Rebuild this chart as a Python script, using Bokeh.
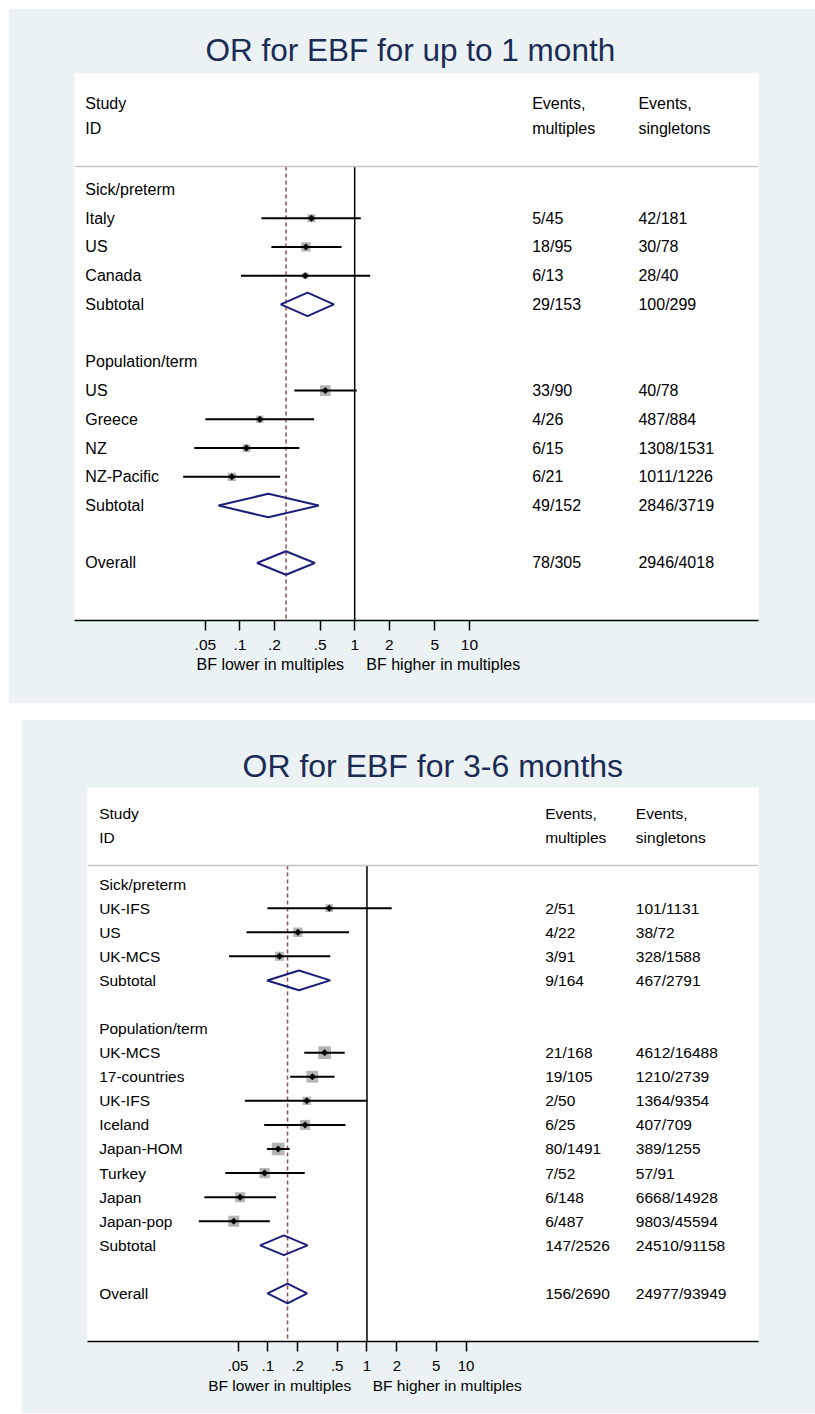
import math
from bokeh.plotting import figure
from bokeh.layouts import column
from bokeh.models import Range1d, FixedTicker, Span, ColumnDataSource, Title
from bokeh.embed import file_html
from bokeh.resources import INLINE
from bokeh.core.properties import value

FONT = "Liberation Sans"
BG = "#eaf2f3"
TITLE_COLOR = "#1c2b56"
DIAMOND_COLOR = "#1b1f7b"
REF_DASH_COLOR = "#a0474c"
BOX_COLOR = "#b5b5b5"

# ---------------- data: panel 1 ----------------
p1_title = "OR for EBF for up to 1 month"
p1_groups = ["Sick/preterm", "Population/term"]
p1_group_rows = [0, 6]
p1_names = ["Italy", "US", "Canada", "US", "Greece", "NZ", "NZ-Pacific"]
p1_rows = [1, 2, 3, 7, 8, 9, 10]
p1_or = [0.42, 0.376, 0.371, 0.555, 0.149, 0.114, 0.085]
p1_lo = [0.154, 0.188, 0.102, 0.298, 0.050, 0.040, 0.032]
p1_hi = [1.13, 0.768, 1.365, 1.04, 0.443, 0.329, 0.224]
p1_weight = [13.3, 17.9, 7.5, 23.7, 11.0, 12.3, 14.3]
p1_ev_mult = ["5/45", "18/95", "6/13", "33/90", "4/26", "6/15", "6/21"]
p1_ev_sing = ["42/181", "30/78", "28/40", "40/78", "487/884", "1308/1531", "1011/1226"]
p1_pool_names = ["Subtotal", "Subtotal", "Overall"]
p1_pool_rows = [4, 11, 13]
p1_pool_or = [0.388, 0.177, 0.252]
p1_pool_lo = [0.227, 0.065, 0.141]
p1_pool_hi = [0.659, 0.486, 0.449]
p1_pool_ev_mult = ["29/153", "49/152", "78/305"]
p1_pool_ev_sing = ["100/299", "2846/3719", "2946/4018"]

# ---------------- data: panel 2 ----------------
p2_title = "OR for EBF for 3-6 months"
p2_groups = ["Sick/preterm", "Population/term"]
p2_group_rows = [0, 6]
p2_names = ["UK-IFS", "US", "UK-MCS", "UK-MCS", "17-countries", "UK-IFS",
            "Iceland", "Japan-HOM", "Turkey", "Japan", "Japan-pop"]
p2_rows = [1, 2, 3, 7, 8, 9, 10, 11, 12, 13, 14]
p2_or = [0.416, 0.201, 0.131, 0.374, 0.281, 0.247, 0.2375, 0.127, 0.0927, 0.0525, 0.0453]
p2_lo = [0.099, 0.061, 0.0406, 0.233, 0.168, 0.0585, 0.0918, 0.0977, 0.0372, 0.0229, 0.0201]
p2_hi = [1.776, 0.658, 0.426, 0.596, 0.471, 1.016, 0.607, 0.166, 0.2355, 0.121, 0.1047]
p2_weight = [5.0, 7.3, 6.9, 13.6, 11.6, 5.8, 8.5, 13.6, 9.0, 8.5, 10.2]
p2_ev_mult = ["2/51", "4/22", "3/91", "21/168", "19/105", "2/50", "6/25", "80/1491",
              "7/52", "6/148", "6/487"]
p2_ev_sing = ["101/1131", "38/72", "328/1588", "4612/16488", "1210/2739", "1364/9354",
              "407/709", "389/1255", "57/91", "6668/14928", "9803/45594"]
p2_pool_names = ["Subtotal", "Subtotal", "Overall"]
p2_pool_rows = [4, 15, 17]
p2_pool_or = [0.206, 0.145, 0.158]
p2_pool_lo = [0.0984, 0.0836, 0.0993]
p2_pool_hi = [0.426, 0.2515, 0.249]
p2_pool_ev_mult = ["9/164", "147/2526", "156/2690"]
p2_pool_ev_sing = ["467/2791", "24510/91158", "24977/93949"]

tick_vals = [0.05, 0.1, 0.2, 0.5, 1, 2, 5, 10]
tick_labels = [".05", ".1", ".2", ".5", "1", "2", "5", "10"]
header_study = ["Study", "ID"]
header_col1 = ["Events,", "multiples"]
header_col2 = ["Events,", "singletons"]
fav_left = "BF lower in multiples"
fav_right = "BF higher in multiples"


def panel(d, L):
    fl, fr, ft, fb = L["frame"]
    left, top, width, height = L["box"]

    def X(px):
        return 10 ** ((px - L["one_px"]) / L["dec_px"])

    def Y(px):
        return (px - L["row0_px"]) / L["row_px"]

    p = figure(width=width, height=height, x_axis_type="log",
               x_range=Range1d(X(fl), X(fr)), y_range=Range1d(Y(fb), Y(ft)),
               y_axis_location=None, toolbar_location=None, output_backend="svg",
               min_border_left=fl - left, min_border_right=left + width - fr,
               min_border_top=ft - top, min_border_bottom=top + height - fb)
    p.background_fill_color = "white"
    p.border_fill_color = BG
    p.outline_line_color = None
    p.grid.visible = False

    # title
    p.title.text = d["title"]
    p.title.align = "left"
    p.title.offset = L["title_start_px"] - fl
    p.title.text_font = FONT
    p.title.text_font_size = L["title_font"]
    p.title.text_font_style = "normal"
    p.title.text_color = TITLE_COLOR
    p.title.standoff = L["title_standoff"]

    fs = L["font"]
    tkw = dict(text_font=value(FONT), text_font_size=fs, text_color="black",
               text_baseline="middle", text_align="left")

    # header line
    p.add_layout(Span(location=Y(L["line_px"]), dimension="width",
                      line_color="#c4c4c4", line_width=1.5))

    # reference lines
    y_line = Y(L["line_px"])
    y_bot = Y(fb)
    overall = d["pool_or"][-1]
    p.segment(x0=[1], y0=[y_line], x1=[1], y1=[y_bot], line_color="black", line_width=1.5)
    p.segment(x0=[overall], y0=[y_line], x1=[overall], y1=[y_bot],
              line_color=REF_DASH_COLOR, line_width=1.5, line_dash="4 3")

    # studies
    src = ColumnDataSource(dict(
        row=d["rows"], orr=d["or"], lo=d["lo"], hi=d["hi"],
        size=[L["box_k"] * w ** 0.5 for w in d["weight"]],
        name=d["names"], em=d["ev_mult"], es=d["ev_sing"]))
    p.scatter(x="orr", y="row", size="size", marker="square", source=src,
              fill_color=BOX_COLOR, line_color=None)
    p.segment(x0="lo", y0="row", x1="hi", y1="row", source=src,
              line_color="black", line_width=2)
    p.scatter(x="orr", y="row", size=4.6, marker="square", angle=math.pi / 4, source=src,
              fill_color="black", line_color="black", line_width=0.5)

    # pooled diamonds
    h = 0.41
    xs = [[lo, o, hi, o] for lo, o, hi in zip(d["pool_lo"], d["pool_or"], d["pool_hi"])]
    ys = [[r, r - h, r, r + h] for r in d["pool_rows"]]
    p.patches(xs, ys, fill_alpha=0, line_color=DIAMOND_COLOR, line_width=2)

    # text columns
    xl, x1, x2 = X(L["label_px"]), X(L["col1_px"]), X(L["col2_px"])
    p.text(x=xl, y=d["group_rows"], text=d["groups"], **tkw)
    p.text(x=xl, y="row", text="name", source=src, **tkw)
    p.text(x=x1, y="row", text="em", source=src, **tkw)
    p.text(x=x2, y="row", text="es", source=src, **tkw)
    p.text(x=xl, y=d["pool_rows"], text=d["pool_names"], **tkw)
    p.text(x=x1, y=d["pool_rows"], text=d["pool_ev_mult"], **tkw)
    p.text(x=x2, y=d["pool_rows"], text=d["pool_ev_sing"], **tkw)
    hy = [Y(L["study_px"]), Y(L["id_px"])]
    p.text(x=xl, y=hy, text=header_study, **tkw)
    p.text(x=x1, y=hy, text=header_col1, **tkw)
    p.text(x=x2, y=hy, text=header_col2, **tkw)

    # axis
    ax = p.xaxis[0]
    ax.ticker = FixedTicker(ticks=tick_vals, minor_ticks=[])
    ax.major_label_overrides = {t: s for t, s in zip(tick_vals, tick_labels)}
    ax.major_tick_out = 10
    ax.major_tick_in = 0
    ax.minor_tick_line_color = None
    ax.axis_line_color = "black"
    ax.axis_line_width = 1.5
    ax.major_tick_line_color = "black"
    ax.major_tick_line_width = 1.5
    ax.major_label_text_font = FONT
    ax.major_label_text_font_size = L["tick_font"]
    ax.major_label_text_color = "black"
    ax.major_label_standoff = 9

    # "favours" captions below the axis
    gap = "\u00a0" * L["fav_gap"]
    p.add_layout(Title(text=fav_left + gap + fav_right, align="left",
                       offset=L["fav_start_px"] - fl, text_font=FONT,
                       text_font_size=fs, text_font_style="normal",
                       text_color="black", standoff=L["fav_standoff"]), "below")
    return p


d1 = dict(title=p1_title, groups=p1_groups, group_rows=p1_group_rows, names=p1_names,
          rows=p1_rows, weight=p1_weight, ev_mult=p1_ev_mult, ev_sing=p1_ev_sing,
          pool_names=p1_pool_names, pool_rows=p1_pool_rows, pool_or=p1_pool_or,
          pool_lo=p1_pool_lo, pool_hi=p1_pool_hi, pool_ev_mult=p1_pool_ev_mult,
          pool_ev_sing=p1_pool_ev_sing, lo=p1_lo, hi=p1_hi)
d1["or"] = p1_or
d2 = dict(title=p2_title, groups=p2_groups, group_rows=p2_group_rows, names=p2_names,
          rows=p2_rows, weight=p2_weight, ev_mult=p2_ev_mult, ev_sing=p2_ev_sing,
          pool_names=p2_pool_names, pool_rows=p2_pool_rows, pool_or=p2_pool_or,
          pool_lo=p2_pool_lo, pool_hi=p2_pool_hi, pool_ev_mult=p2_pool_ev_mult,
          pool_ev_sing=p2_pool_ev_sing, lo=p2_lo, hi=p2_hi)
d2["or"] = p2_or

L1 = dict(box=(8, 8, 807, 695), frame=(74, 769, 73, 620), one_px=358.7, dec_px=116.6,
          row0_px=189.0, row_px=28.73, label_px=85, col1_px=539, col2_px=647,
          study_px=103, id_px=128, line_px=166, title_standoff=12, title_start_px=205,
          font="16px", tick_font="15.5px", title_font="31.5px", box_k=2.19,
          fav_start_px=196, fav_gap=5, fav_standoff=2)
L2 = dict(box=(21, 719, 794, 694), frame=(85, 758, 787, 1341), one_px=365.3, dec_px=99.4,
          row0_px=883.6, row_px=24.08, label_px=96.7, col1_px=544, col2_px=635,
          study_px=812.7, id_px=836.7, line_px=865, title_standoff=7, title_start_px=240,
          font="15.5px", tick_font="15px", title_font="32px", box_k=3.44,
          fav_start_px=205.7, fav_gap=5, fav_standoff=2)

p1 = panel(d1, L1)
p2 = panel(d2, L2)
p1.margin = (8, 0, 0, 8)
p2.margin = (16, 0, 0, 21)

layout = column(p1, p2, spacing=0)
open("out.html", "w").write(file_html(layout, INLINE))
